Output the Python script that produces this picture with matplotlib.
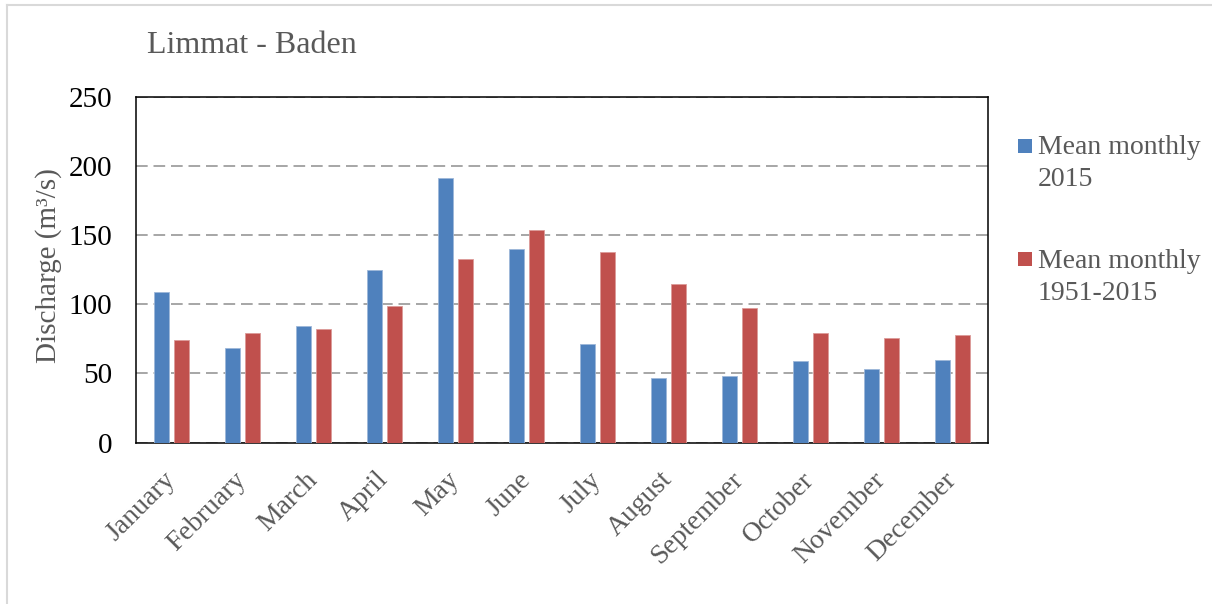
import matplotlib
matplotlib.use("Agg")
import matplotlib.pyplot as plt
from matplotlib.patches import Rectangle
from matplotlib.lines import Line2D
import numpy as np

# mean monthly discharge of the Limmat at Baden (m3/s)
months = ["January", "February", "March", "April", "May", "June",
          "July", "August", "September", "October", "November", "December"]
flow_2015 = [109, 68.5, 84.5, 125, 191, 140, 71, 47, 48.5, 59, 53, 60]
flow_1951_2015 = [74, 79, 82, 99, 133, 154, 138, 115, 97.5, 79.5, 76, 78]
series_names = [["Mean monthly", "2015"], ["Mean monthly", "1951-2015"]]
y_ticks = [0, 50, 100, 150, 200, 250]

blue = "#4F81BD"
red = "#C0504D"
grey_txt = "#595959"
serif = "Liberation Serif"

W, H = 1212, 604
fig = plt.figure(figsize=(W / 100, H / 100), dpi=100)
ax = fig.add_axes([136 / W, 1 - 442.7 / H, (988 - 136) / W, (442.7 - 96.7) / H])

x = np.arange(len(months))
bw = 0.22
off = 0.143
ax.bar(x - off, flow_2015, bw, color=blue, edgecolor="#9db7d9", linewidth=0.6, zorder=3)
ax.bar(x + off, flow_1951_2015, bw, color=red, edgecolor="#dc9a98", linewidth=0.6, zorder=3)

ax.set_xlim(-0.5, len(months) - 0.5)
ax.set_ylim(0, 250)
ax.set_yticks(y_ticks)
ax.set_yticklabels([str(v) for v in y_ticks], fontsize=21, family=serif, color="black")
ax.set_xticks(x)
ax.set_xticklabels(months, fontsize=20, family=serif, color=grey_txt,
                   rotation=45, ha="right", va="center", rotation_mode="anchor")
ax.tick_params(axis="both", length=0)
ax.tick_params(axis="y", pad=17)
ax.tick_params(axis="x", pad=24)

ax.yaxis.grid(True, color="#a6a6a6", linestyle=(0, (6, 3)), linewidth=1.4, zorder=0)
ax.set_axisbelow(True)
for sp in ax.spines.values():
    sp.set_color("black")
    sp.set_linewidth(1.1)

fig.text(49 / W, 1 - 266 / H, "Discharge (m³/s)", rotation=90, ha="center", va="center",
         fontsize=21, family=serif, color=grey_txt)
fig.text(147 / W, 1 - 53 / H, "Limmat - Baden", fontsize=23, family=serif,
         color=grey_txt, va="baseline")

# legend drawn by hand so the square sits beside the first line
for colour, lines, sq_top, base in [(blue, series_names[0], 139, 154),
                                    (red, series_names[1], 252, 268)]:
    fig.add_artist(Rectangle((1018 / W, 1 - (sq_top + 14) / H), 14 / W, 14 / H,
                             facecolor=colour, edgecolor="none",
                             transform=fig.transFigure))
    for i, line in enumerate(lines):
        fig.text(1038 / W, 1 - (base + 32 * i) / H, line, fontsize=20, family=serif,
                 color=grey_txt, va="baseline")

# chart area frame (top and left edges)
fig.add_artist(Line2D([6.5 / W, 6.5 / W], [0, 1 - 5 / H], color="#d9d9d9", lw=1.5,
                      transform=fig.transFigure))
fig.add_artist(Line2D([6.5 / W, 1], [1 - 5 / H, 1 - 5 / H], color="#d9d9d9", lw=1.5,
                      transform=fig.transFigure))

fig.savefig("out.png", dpi=100)
